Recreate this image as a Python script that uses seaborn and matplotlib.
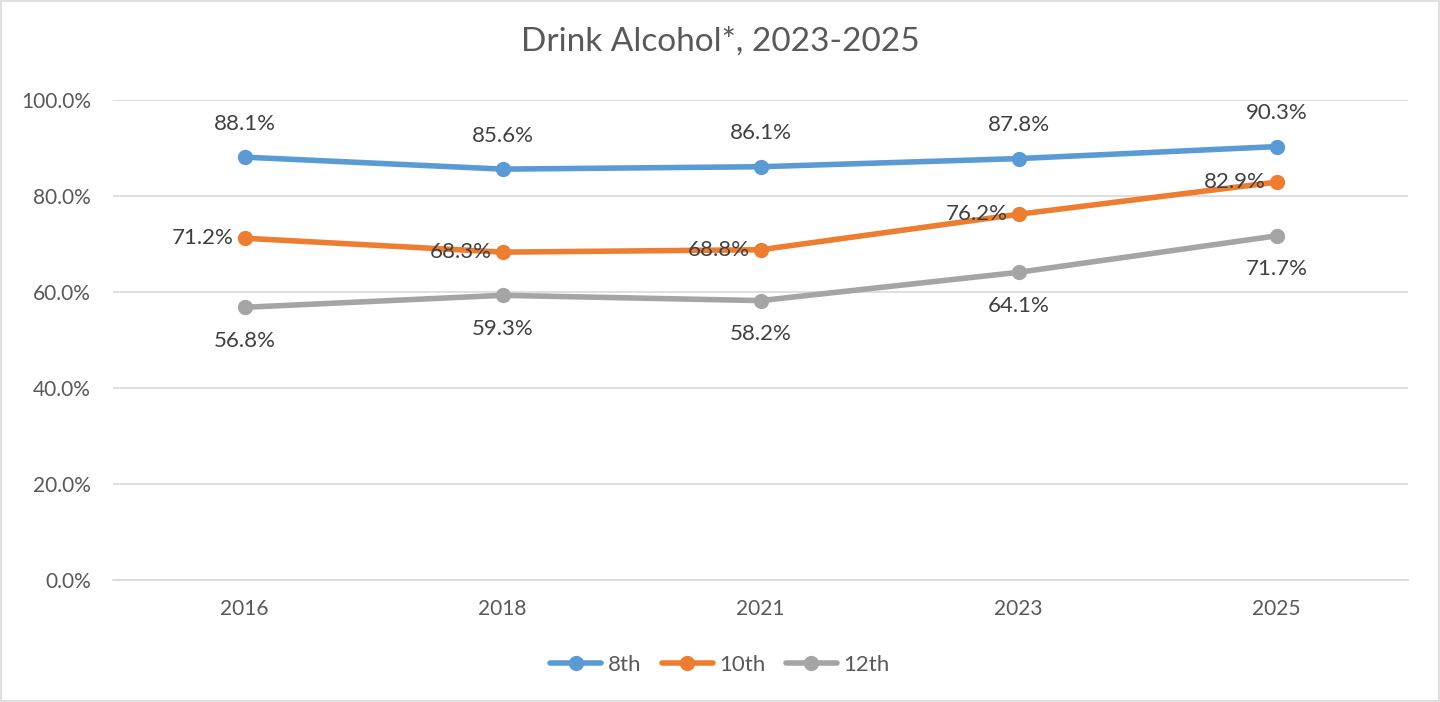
import matplotlib.pyplot as plt
import numpy as np
import pandas as pd
import seaborn as sns

years = ['2016', '2018', '2021', '2023', '2025']
grades = ['8th', '10th', '12th']
g8 = [88.1, 85.6, 86.1, 87.8, 90.3]
g10 = [71.2, 68.3, 68.8, 76.2, 82.9]
g12 = [56.8, 59.3, 58.2, 64.1, 71.7]
colors = ['#5B9BD5', '#ED7D31', '#A5A5A5']

df = pd.DataFrame({
    'pos': list(range(len(years))) * 3,
    'val': g8 + g10 + g12,
    'grade': [g for g in grades for _ in years],
})

sns.set_style('white')
plt.rcParams['font.family'] = ['Lato', 'DejaVu Sans']

fig = plt.figure(figsize=(14.4, 7.02), dpi=100)
ax = fig.add_axes([0.0785, 0.174, 0.8995, 0.6835])
sns.lineplot(data=df, x='pos', y='val', hue='grade', palette=colors,
             marker='o', markersize=11, markeredgewidth=0, linewidth=4,
             ax=ax, legend=False)

txt = '#404040'
for i, (x, y) in enumerate(zip(df['pos'], df['val'])):
    g = df['grade'][i]
    if g == '8th':
        ax.annotate(f'{y:.1f}%', (x, y), xytext=(0, 17), textcoords='offset points',
                    ha='center', va='bottom', fontsize=16, color=txt)
    elif g == '10th':
        ax.annotate(f'{y:.1f}%', (x, y), xytext=(-8, 0), textcoords='offset points',
                    ha='right', va='center', fontsize=16, color=txt)
    else:
        ax.annotate(f'{y:.1f}%', (x, y), xytext=(0, -17), textcoords='offset points',
                    ha='center', va='top', fontsize=16, color=txt)

ax.set_xlim(-0.51, 4.51)
ax.set_ylim(0, 100)
ax.set_yticks(np.arange(0, 101, 20))
ax.set_yticklabels([f'{v:.1f}%' for v in np.arange(0, 101, 20)])
ax.set_xticks(range(len(years)))
ax.set_xticklabels(years)
ax.tick_params(axis='both', labelsize=15, colors='#595959', length=0)
ax.tick_params(axis='y', pad=16)
ax.tick_params(axis='x', pad=14)
ax.grid(axis='y', color='#D9D9D9', linewidth=1.2)
for s in ['top', 'right', 'left']:
    ax.spines[s].set_visible(False)
ax.spines['bottom'].set_color('#D9D9D9')
ax.spines['bottom'].set_linewidth(1.2)
ax.set_xlabel('')
ax.set_ylabel('')

fig.suptitle('Drink Alcohol*, 2023-2025', y=0.962, fontsize=24, color='#595959')

handles = [plt.Line2D([], [], color=c, marker='o', markersize=11, linewidth=4,
                      markeredgewidth=0) for c in colors]
fig.legend(handles, grades, loc='center', bbox_to_anchor=(0.5, 0.053), ncol=3,
           frameon=False, fontsize=16, labelcolor='#595959', handlelength=2.3,
           handletextpad=0.3, columnspacing=0.9)

fig.patches.append(plt.Rectangle((0.001, 0.001), 0.998, 0.998, transform=fig.transFigure,
                                 fill=False, edgecolor='#D9D9D9', linewidth=1.2))

fig.savefig('out.png', dpi=100)
